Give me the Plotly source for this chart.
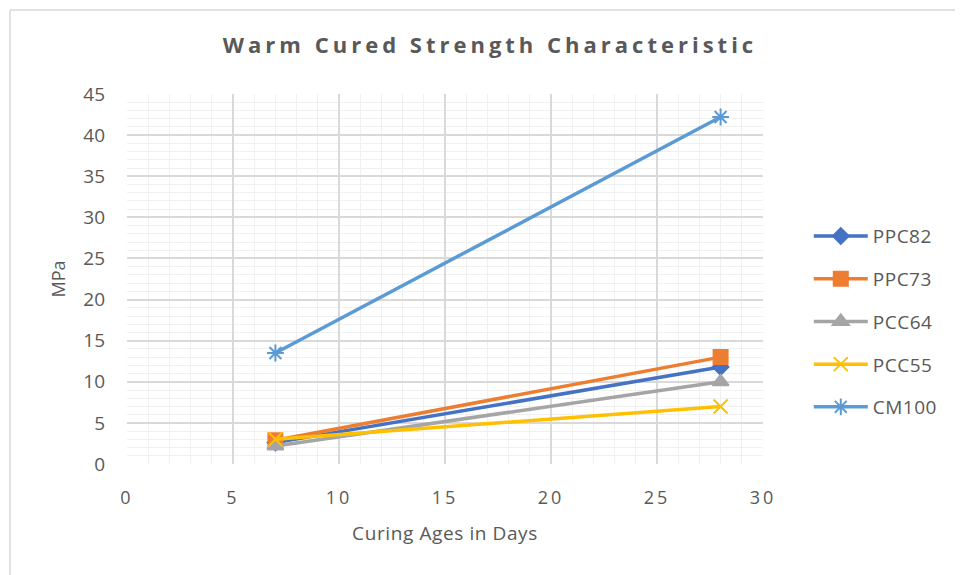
import plotly.graph_objects as go

days = [7, 28]
series_names = ["PPC82", "PPC73", "PCC64", "PCC55", "CM100"]
ppc82 = [2.6, 11.8]
ppc73 = [2.9, 13.0]
pcc64 = [2.2, 10.0]
pcc55 = [3.0, 7.0]
cm100 = [13.5, 42.2]
values = [ppc82, ppc73, pcc64, pcc55, cm100]

colors = ["#4472C4", "#ED7D31", "#A5A5A5", "#FFC000", "#5B9BD5"]
symbols = ["diamond", "square", "triangle-up", "x-thin-open", "asterisk-open"]
sizes = [12, 14, 14, 14, 14]

FONT = "Open Sans, sans-serif"
GREY = "#595959"

fig = go.Figure()
for name, vals, c, s, sz in zip(series_names, values, colors, symbols, sizes):
    fig.add_trace(go.Scatter(
        x=days, y=vals, name=name, mode="lines+markers", legendgroup=name,
        line=dict(color=c, width=3.5),
        marker=dict(symbol=s, size=sz, color=c, line=dict(color=c, width=2)),
    ))

# page body has an 8px margin, so the figure is 8px smaller and offsets shifted
L, T, W, H = 119, 86, 636, 370
fig.update_layout(
    width=955, height=567,
    paper_bgcolor="white", plot_bgcolor="white",
    margin=dict(l=L, r=955 - L - W, t=T, b=567 - T - H),
    font=dict(family=FONT, size=18, color=GREY),
    title=dict(text="<b>Warm Cured Strength Characteristic</b>", x=(490 - 8) / 955, xanchor="center",
               y=1 - (45 - 8) / 567, yanchor="middle",
               font=dict(family=FONT, size=22, color=GREY)),
    legend=dict(x=1.072, xanchor="left", y=0.667, yanchor="top",
                font=dict(family=FONT, size=19, color=GREY), itemwidth=54,
                tracegroupgap=15, bgcolor="rgba(0,0,0,0)"),
    xaxis=dict(range=[0, 30], dtick=5, showgrid=True, gridcolor="#D9D9D9", gridwidth=1.5,
               minor=dict(dtick=1, showgrid=True, gridcolor="#F0F0F0", gridwidth=1),
               zeroline=False, showline=False, ticks="", ticklabelstandoff=21,
               tickfont=dict(family=FONT, size=18, color=GREY),
               title=dict(text="Curing Ages in Days", standoff=18,
                          font=dict(family=FONT, size=19, color=GREY))),
    yaxis=dict(range=[0, 45], dtick=5, showgrid=True, gridcolor="#D9D9D9", gridwidth=1.5,
               minor=dict(dtick=1, showgrid=True, gridcolor="#F0F0F0", gridwidth=1),
               zeroline=False, showline=False, ticks="", ticklabelstandoff=21,
               tickfont=dict(family=FONT, size=19, color=GREY),
               title=dict(text="MPa", standoff=12,
                          font=dict(family=FONT, size=18, color=GREY))),
)

# outer chart frame (left and top edges visible)
fx = (2 - L) / W
fy = (T + H - 2) / H
fig.add_shape(type="line", xref="paper", yref="paper",
              x0=fx, x1=fx, y0=-(567 - T - H) / H, y1=fy,
              line=dict(color="#D9D9D9", width=1.5))
fig.add_shape(type="line", xref="paper", yref="paper",
              x0=fx, x1=(955 - L) / W, y0=fy, y1=fy,
              line=dict(color="#D9D9D9", width=1.5))

post = """
var gd = document.getElementById('{plot_id}');
gd.querySelectorAll('.gtitle').forEach(function(e){ e.style.letterSpacing = '4px'; });
gd.querySelectorAll('.xtick text').forEach(function(e){ e.style.letterSpacing = '3px'; });
gd.querySelectorAll('.xtitle').forEach(function(e){ e.style.letterSpacing = '0.6px'; });
gd.querySelectorAll('.legendtext').forEach(function(e){ e.style.letterSpacing = '0.5px'; });
"""
fig.write_html("out.html", post_script=post)
